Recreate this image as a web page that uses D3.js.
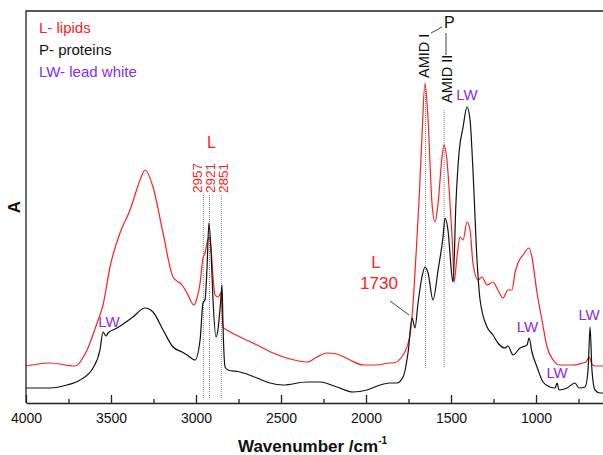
<!DOCTYPE html>
<html>
<head>
<meta charset="utf-8">
<script src="https://cdn.jsdelivr.net/npm/d3@7"></script>
<style>
  body { margin: 0; background: #fff; }
  text { font-family: 'Liberation Sans', Arial, sans-serif; }
</style>
</head>
<body>
<svg id="chart" width="603" height="455"></svg>
<script>
// wavenumbers (cm-1) and absorbance
var lipidWn = [4000,3859,3712,3641,3582,3547,3506,3447,3388,3329,3300,3253,3194,3135,3082,3053,3012,2994,2976,2959,
  2947,2935,2924,2912,2900,2888,2871,2853,2841,2818,2741,2641,2547,2447,2347,2288,2229,2171,2094,2018,
  1935,1859,1841,1782,1741,1724,1706,1688,1671,1653,1635,1612,1594,1576,1553,1541,1524,1506,1488,1482,
  1465,1447,1429,1406,1388,1371,1341,1318,1288,1253,1224,1194,1165,1141,1124,1106,1076,1041,1024,994,
  965,935,900,859,782,724,706,688,671,653,606];
var lipidAbs = [0.0925,0.100,0.0925,0.1325,0.200,0.245,0.34,0.425,0.4825,0.5575,0.5825,0.54,0.425,0.315,0.295,0.275,0.245,0.2625,0.30,0.3625,
  0.375,0.40,0.415,0.39,0.315,0.27,0.265,0.275,0.19,0.1825,0.165,0.145,0.125,0.11,0.1025,0.115,0.125,0.1225,0.1075,0.095,
  0.095,0.10,0.10,0.12,0.17,0.245,0.37,0.5075,0.665,0.80,0.7075,0.50,0.4525,0.50,0.615,0.645,0.6075,0.50,0.365,0.3025,
  0.365,0.415,0.4075,0.4525,0.4325,0.35,0.3075,0.315,0.295,0.3025,0.2825,0.2625,0.2825,0.2825,0.325,0.35,0.37,0.3875,0.365,0.275,
  0.2075,0.14,0.1075,0.095,0.095,0.10,0.1025,0.115,0.0975,0.0925,0.0925];

var proteinWn = [4000,3859,3759,3682,3606,3565,3547,3529,3518,3465,3371,3300,3253,3194,3135,3082,3053,3006,2976,2959,
  2947,2935,2924,2912,2900,2882,2871,2853,2847,2841,2829,2812,2741,2641,2565,2488,2347,2271,2171,2076,
  1994,1918,1859,1818,1782,1753,1729,1712,1694,1671,1653,1635,1606,1576,1547,1535,1518,1494,1488,1471,
  1453,1429,1406,1388,1371,1347,1329,1288,1253,1224,1182,1165,1135,1094,1053,1041,1024,994,959,918,
  888,876,865,818,771,747,712,694,682,671,653,624,606];
var proteinAbs = [0.0375,0.0375,0.045,0.0575,0.0875,0.1325,0.1775,0.1675,0.175,0.1875,0.215,0.2375,0.2275,0.1825,0.14,0.1275,0.12,0.1075,0.1575,0.25,
  0.2575,0.34,0.45,0.3825,0.2575,0.165,0.1825,0.265,0.295,0.19,0.09,0.0825,0.0775,0.0625,0.05,0.045,0.0525,0.0525,0.04,0.0275,
  0.0325,0.045,0.05,0.05,0.065,0.125,0.2125,0.1875,0.25,0.315,0.34,0.325,0.2575,0.3325,0.415,0.4625,0.4325,0.315,0.3025,0.50,
  0.625,0.69,0.74,0.7075,0.5825,0.3575,0.2575,0.19,0.17,0.15,0.1375,0.1425,0.12,0.1375,0.145,0.1625,0.1275,0.09,0.0525,0.04,
  0.0375,0.05,0.0325,0.0375,0.05,0.0375,0.04,0.0825,0.19,0.0825,0.0325,0.025,0.025];

var majorTicks = [4000,3500,3000,2500,2000,1500,1000];
var minorTicks = [3750,3250,2750,2250,1750,1250,750];

var legendLabels = ['L- lipids', 'P- proteins', 'LW- lead white'];
var lipidBands = ['2957', '2921', '2851'];
var amideBands = ['AMID I', 'AMID II'];
var amideWn = [1650, 1540];
var leadWhiteWn = [3547, 1406, 1041, 876, 682];

var red = '#ff2020', violet = '#8a2cf0';

var svg = d3.select('#chart');
var x = d3.scaleLinear().domain([4000, 606]).range([26, 603]);
var y = d3.scaleLinear().domain([0, 0.98]).range([403, 11]);

function series(wn, abs) {
  return wn.map(function(w, i) { return [w, abs[i]]; });
}

svg.append('clipPath').attr('id', 'plot')
  .append('rect').attr('x', 26).attr('y', 11).attr('width', 577).attr('height', 392);

// dotted band markers
var guides = svg.append('g')
  .attr('stroke', '#888').attr('stroke-width', 1).attr('stroke-dasharray', '1,1');
lipidBands.forEach(function(b) {
  guides.append('line')
    .attr('x1', x(+b)).attr('x2', x(+b))
    .attr('y1', y(0.52)).attr('y2', y(0.0125));
});
amideWn.forEach(function(w, i) {
  guides.append('line')
    .attr('x1', x(w)).attr('x2', x(w))
    .attr('y1', y(i ? 0.7325 : 0.795)).attr('y2', y(0.0875));
});

var line = d3.line()
  .x(function(d) { return x(d[0]); })
  .y(function(d) { return y(d[1]); })
  .curve(d3.curveMonotoneX);

var plot = svg.append('g').attr('clip-path', 'url(#plot)');
plot.append('path').datum(series(lipidWn, lipidAbs))
  .attr('fill', 'none').attr('stroke', red).attr('stroke-width', 1.2).attr('d', line);
plot.append('path').datum(series(proteinWn, proteinAbs))
  .attr('fill', 'none').attr('stroke', '#111').attr('stroke-width', 1.2).attr('d', line);

// axes and frame
var xAxis = svg.append('g').attr('transform', 'translate(0,403)')
  .call(d3.axisBottom(x).tickValues(majorTicks).tickSize(-8).tickSizeOuter(0)
    .tickPadding(10).tickFormat(d3.format('d')));
xAxis.selectAll('text').attr('font-size', 14).attr('fill', '#111')
  .attr('font-family', "'Liberation Sans', Arial, sans-serif");
xAxis.selectAll('line, path').attr('stroke', '#222').attr('stroke-width', 1.3);

var xMinor = svg.append('g').attr('transform', 'translate(0,403)')
  .call(d3.axisBottom(x).tickValues(minorTicks).tickSize(-4).tickFormat(''));
xMinor.select('.domain').remove();
xMinor.selectAll('line').attr('stroke', '#222').attr('stroke-width', 1.3);

svg.append('path').attr('d', 'M26,403V11H603')
  .attr('fill', 'none').attr('stroke', '#222').attr('stroke-width', 1.3);

var title = svg.append('text').attr('x', 238).attr('y', 452)
  .attr('font-size', 17).attr('font-weight', 'bold').attr('fill', '#111')
  .text('Wavenumber /cm');
title.append('tspan').attr('dy', -8).attr('font-size', 10).text('-1');

svg.append('text').attr('transform', 'translate(20,207) rotate(-90)')
  .attr('text-anchor', 'middle').attr('font-size', 17).attr('font-weight', 'bold')
  .attr('fill', '#111').text('A');

// legend
svg.selectAll('text.legend').data(legendLabels).enter().append('text')
  .classed('legend', true)
  .attr('x', 39).attr('y', function(d, i) { return 33 + i * 22; })
  .attr('font-size', 15)
  .attr('fill', function(d, i) { return [red, '#111', violet][i]; })
  .text(function(d) { return d; });

// lipid CH stretch labels
var bandShift = [-1.3, 6, 6.7];
lipidBands.forEach(function(b, i) {
  svg.append('text')
    .attr('transform', 'translate(' + (x(+b) + bandShift[i]) + ',193) rotate(-90)')
    .attr('font-size', 13.5).attr('fill', red).text(b);
});
svg.append('text').attr('x', 207).attr('y', 148)
  .attr('font-size', 16).attr('fill', red).text('L');

svg.append('text').attr('x', 376).attr('y', 268).attr('text-anchor', 'middle')
  .attr('font-size', 17).attr('fill', red).text('L');
svg.append('text').attr('x', 379).attr('y', 289).attr('text-anchor', 'middle')
  .attr('font-size', 17).attr('fill', red).text('1730');
svg.append('line').attr('x1', 390).attr('y1', 301).attr('x2', x(1729) - 3).attr('y2', y(0.2125) - 3)
  .attr('stroke', '#444').attr('stroke-width', 1);

// amide labels
amideBands.forEach(function(a, i) {
  svg.append('text')
    .attr('transform', 'translate(' + (x(amideWn[i]) + (i ? 7.5 : 3.5)) + ',' + (i ? 103 : 78) + ') rotate(-90)')
    .attr('font-size', 14.5).attr('fill', '#111').text(a);
});
svg.append('text').attr('x', 444).attr('y', 28)
  .attr('font-size', 16).attr('fill', '#111').text('P');
svg.append('path').attr('d', 'M431,33L442,27M446,33V55')
  .attr('fill', 'none').attr('stroke', '#444').attr('stroke-width', 1);

// lead white labels
var lwDx = [6, 0, -1.5, 0, -1];
var lwY = [327, 100, 332, 378, 320];
leadWhiteWn.forEach(function(w, i) {
  svg.append('text').attr('x', x(w) + lwDx[i]).attr('y', lwY[i])
    .attr('text-anchor', 'middle').attr('font-size', 15).attr('fill', violet).text('LW');
});
</script>
</body>
</html>
